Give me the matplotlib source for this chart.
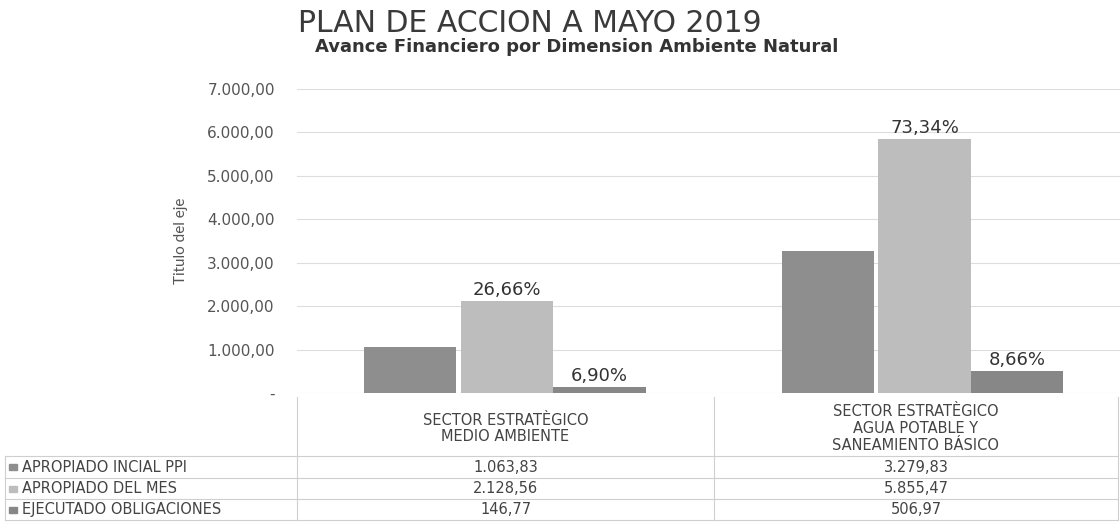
import matplotlib
matplotlib.use("Agg")
import matplotlib.pyplot as plt
import numpy as np

categories = ["SECTOR ESTRATÈGICO\nMEDIO AMBIENTE",
              "SECTOR ESTRATÈGICO\nAGUA POTABLE Y\nSANEAMIENTO BÁSICO"]
series_names = ["APROPIADO INCIAL PPI", "APROPIADO DEL MES", "EJECUTADO OBLIGACIONES"]
apropiado_inicial = [1063.83, 3279.83]
apropiado_mes = [2128.56, 5855.47]
ejecutado = [146.77, 506.97]
pct_mes = ["26,66%", "73,34%"]
pct_ejec = ["6,90%", "8,66%"]
table_text = [["1.063,83", "3.279,83"], ["2.128,56", "5.855,47"], ["146,77", "506,97"]]
yticks = [0, 1000, 2000, 3000, 4000, 5000, 6000, 7000]
ytick_labels = ["-", "1.000,00", "2.000,00", "3.000,00", "4.000,00", "5.000,00", "6.000,00", "7.000,00"]

colors = ["#8e8e8e", "#bdbdbd", "#878787"]
txt = "#444444"

W, H = 1120, 522
fig = plt.figure(figsize=(W / 100, H / 100), dpi=100)
fig.patch.set_facecolor("white")

def fx(px): return px / W
def fy(py): return 1 - py / H

ax_left, ax_right, ax_top, ax_bot = 297, 1120, 89, 393
ax = fig.add_axes([fx(ax_left), fy(ax_bot), fx(ax_right - ax_left), (ax_bot - ax_top) / H])
ax.set_xlim(-0.5, 1.5)
ax.set_ylim(0, 7000)

x = np.arange(len(categories))
bw = 0.225
data = [apropiado_inicial, apropiado_mes, ejecutado]
bars = []
for i, (vals, c) in enumerate(zip(data, colors)):
    b = ax.bar(x + (i - 1) * bw + 0.01 * (1 if i else 0) + 0.015 * x, vals, width=bw, color=c, zorder=3)
    bars.append(b)

for grp, labs in ((bars[1], pct_mes), (bars[2], pct_ejec)):
    for rect, lab in zip(grp, labs):
        ax.text(rect.get_x() + rect.get_width() / 2, rect.get_height() + 40, lab,
                ha="center", va="bottom", fontsize=13, color="#333333", family="DejaVu Sans")

ax.set_yticks(yticks)
ax.set_yticklabels(ytick_labels, fontsize=11, color="#555555", family="DejaVu Sans")
ax.tick_params(axis="y", length=0, pad=16)
ax.set_xticks([])
ax.grid(axis="y", color="#dddddd", linewidth=0.8, zorder=0)
for s in ax.spines.values():
    s.set_visible(False)
ax.set_ylabel("Titulo del eje", fontsize=11, color="#555555", family="Lato", labelpad=14)

# Title
fig.text(fx(530), fy(23), "PLAN DE ACCION A MAYO 2019", ha="center", va="center",
         fontsize=21.5, color="#3a3a3a", family="DejaVu Sans")
fig.text(fx(577), fy(47), "Avance Financiero por Dimension Ambiente Natural", ha="center", va="center",
         fontsize=13, color="#333333", family="DejaVu Sans", fontweight="bold")

# Data table
lc = "#cfcfcf"
xcol = [5, 297, 714, 1118]
yrow = [397, 456, 478, 499, 520]
for xv in xcol[1:]:
    fig.add_artist(plt.Line2D([fx(xv), fx(xv)], [fy(yrow[0]), fy(yrow[-1])], color=lc, lw=0.8))
fig.add_artist(plt.Line2D([fx(xcol[0]), fx(xcol[0])], [fy(yrow[1]), fy(yrow[-1])], color=lc, lw=0.8))
for yv in yrow[1:]:
    fig.add_artist(plt.Line2D([fx(xcol[0]), fx(xcol[-1])], [fy(yv), fy(yv)], color=lc, lw=0.8))

for j, cat in enumerate(categories):
    cx = (xcol[j + 1] + xcol[j + 2]) / 2
    fig.text(fx(cx), fy((yrow[0] + yrow[1]) / 2 + 2), cat, ha="center", va="center",
             fontsize=10.5, color=txt, family="DejaVu Sans", linespacing=1.15)

for i, name in enumerate(series_names):
    ycen = (yrow[i + 1] + yrow[i + 2]) / 2
    fig.patches.append(plt.Rectangle((fx(9), fy(ycen + 3)), fx(8), 6 / H,
                                     transform=fig.transFigure, color=colors[i], figure=fig))
    fig.text(fx(22), fy(ycen), name, ha="left", va="center", fontsize=10.5, color=txt, family="DejaVu Sans")
    for j in range(2):
        cx = (xcol[j + 1] + xcol[j + 2]) / 2
        fig.text(fx(cx), fy(ycen), table_text[i][j], ha="center", va="center",
                 fontsize=10.5, color=txt, family="DejaVu Sans")

fig.savefig("out.png", dpi=100, facecolor="white")
